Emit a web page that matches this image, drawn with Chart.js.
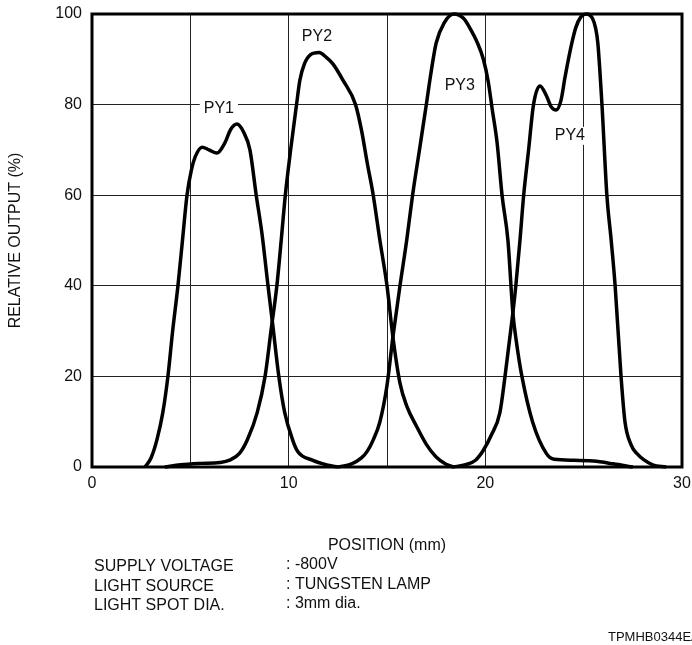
<!DOCTYPE html>
<html>
<head>
<meta charset="utf-8">
<script src="https://cdn.jsdelivr.net/npm/chart.js@4/dist/chart.umd.min.js"></script>
<style>
  html, body { margin: 0; padding: 0; background: #fff; }
  #wrap { width: 692px; height: 645px; }
</style>
</head>
<body>
<div id="wrap"><canvas id="myChart" width="692" height="645"></canvas></div>
<script>
// curve data: position (mm) / relative output (%)
var py1X = [2.7, 3.0, 3.3, 3.6, 3.86, 4.1, 4.37, 4.6, 4.83, 5.05, 5.25, 5.6, 5.95, 6.35, 6.75, 7.05, 7.37, 7.7, 8.03, 8.35, 8.64, 8.95, 9.2, 9.5, 9.8, 10.2, 10.45, 11.2, 12.0, 12.5];
var py1Y = [0, 2, 6, 12, 20, 30, 40, 50, 60, 65.5, 68.5, 70.6, 70, 69.3, 71.5, 74.5, 75.7, 74, 70, 60, 51.6, 40, 31, 20, 12, 6, 3.5, 1.5, 0.4, 0];

var py2X = [3.7, 4.5, 5.5, 6.5, 7.0, 7.5, 7.9, 8.4, 8.8, 9.1, 9.4, 9.62, 9.83, 10.1, 10.4, 10.57, 10.8, 11.1, 11.55, 11.9, 12.25, 12.76, 13.4, 13.7, 14.0, 14.3, 14.64, 15.0, 15.3, 15.66, 16.0, 16.5, 17.0, 17.5, 18.0, 18.4];
var py2Y = [0, 0.5, 0.8, 1, 1.5, 3, 6, 12, 20, 30, 40, 50, 60, 70, 80, 85.4, 89, 91, 91.5, 90.5, 89, 85.4, 80, 74.4, 67, 60, 50, 40, 28.7, 18.5, 13.5, 9, 5, 2.2, 0.6, 0];

var py3X = [12.5, 13.2, 13.7, 14.0, 14.3, 14.64, 15.0, 15.3, 15.66, 16.0, 16.3, 16.65, 17.0, 17.2, 17.5, 17.9, 18.4, 18.9, 19.2, 19.6, 19.9, 20.15, 20.35, 20.6, 20.85, 21.15, 21.4, 21.6, 21.86, 22.4, 23.1, 23.5, 24.5, 25.5, 26.5, 27.5];
var py3Y = [0, 0.7, 2, 3.5, 6, 10, 18, 28.7, 40, 50, 60, 70, 80, 86, 93.6, 98, 100, 99, 97, 93.6, 90, 85, 79, 71.5, 60, 50, 34, 27, 20, 10, 3, 1.7, 1.5, 1.3, 0.7, 0];

var py4X = [18.35, 19.0, 19.5, 19.9, 20.3, 20.74, 21.0, 21.4, 21.55, 21.76, 21.95, 22.2, 22.45, 22.78, 23.1, 23.35, 23.6, 23.85, 24.05, 24.4, 24.6, 24.85, 25.15, 25.45, 25.6, 25.72, 25.93, 26.18, 26.4, 26.6, 26.9, 27.1, 27.4, 27.7, 28.5, 29.2];
var py4Y = [0, 0.5, 1.5, 3.7, 7, 12, 20, 34, 40, 50, 60, 70, 80, 84.1, 82, 79.5, 78.8, 81, 86, 93.6, 97, 99.3, 100, 99, 97, 93.6, 80, 60, 50, 40, 20, 10, 5, 3, 0.5, 0];

var curveNames = ['PY1', 'PY2', 'PY3', 'PY4'];
// where each curve name sits, in data units
var nameX = [6.45, 11.44, 18.7, 24.3];
var nameY = [79.2, 95, 84.1, 73.1];

var xTicks = [0, 10, 20, 30];
var noteKeys = ['SUPPLY VOLTAGE', 'LIGHT SOURCE', 'LIGHT SPOT DIA.'];
var noteVals = [': -800V', ': TUNGSTEN LAMP', ': 3mm dia.'];
var figCode = 'TPMHB0344EA';

var FONT = '"Liberation Sans", Arial, sans-serif';

function pts(xs, ys) {
  return xs.map(function (x, i) { return { x: x, y: ys[i] }; });
}

var xsAll = [py1X, py2X, py3X, py4X];
var ysAll = [py1Y, py2Y, py3Y, py4Y];

var datasets = curveNames.map(function (name, i) {
  return {
    label: name,
    data: pts(xsAll[i], ysAll[i]),
    borderColor: '#000',
    borderWidth: 3.5,
    pointRadius: 0,
    fill: false,
    cubicInterpolationMode: 'monotone',
    clip: 6
  };
});

// frame round the plot + curve names
var framePlugin = {
  id: 'frame',
  beforeDatasetsDraw: function (chart) {
    var ctx = chart.ctx, a = chart.chartArea;
    var xs = chart.scales.x, ys = chart.scales.y;
    ctx.save();
    ctx.font = '16px ' + FONT;
    ctx.textAlign = 'center';
    ctx.textBaseline = 'middle';
    curveNames.forEach(function (n, i) {
      var px = xs.getPixelForValue(nameX[i]);
      var py = ys.getPixelForValue(nameY[i]);
      var w = ctx.measureText(n).width;
      ctx.fillStyle = '#fff';
      ctx.fillRect(px - w / 2 - 4, py - 9, w + 8, 18);
      ctx.fillStyle = '#111';
      ctx.fillText(n, px, py);
    });
    ctx.strokeStyle = '#000';
    ctx.lineWidth = 3;
    ctx.strokeRect(a.left, a.top, a.right - a.left, a.bottom - a.top);
    ctx.restore();
  },
  afterDraw: function (chart) {
    var ctx = chart.ctx;
    ctx.save();
    ctx.fillStyle = '#111';
    ctx.font = '16px ' + FONT;
    ctx.textBaseline = 'middle';
    ctx.textAlign = 'left';
    var rows = [567, 587, 606];
    noteKeys.forEach(function (k, i) {
      ctx.fillText(k, 94, rows[i]);
      ctx.fillText(noteVals[i], 286, rows[i] - 2);
    });
    ctx.font = '13px ' + FONT;
    ctx.fillText(figCode, 608, 637);
    ctx.restore();
  }
};

var ctx = document.getElementById('myChart').getContext('2d');
var myChart = new Chart(ctx, {
  type: 'line',
  data: { datasets: datasets },
  plugins: [framePlugin],
  options: {
    responsive: false,
    animation: false,
    layout: { padding: { left: 0, right: 10, top: 14, bottom: 88 } },
    plugins: {
      legend: { display: false },
      tooltip: { enabled: false }
    },
    scales: {
      x: {
        type: 'linear',
        min: 0,
        max: 30,
        afterFit: function (s) {
          s.height = 90;
          s.paddingLeft = 0;
          s.paddingRight = 0;
        },
        // vertical grid every 5 mm, labels only at 0/10/20/30
        afterBuildTicks: function (s) {
          s.ticks = [0, 5, 10, 15, 20, 25, 30].map(function (v) { return { value: v }; });
        },
        grid: { color: '#222', lineWidth: 1, drawTicks: false },
        border: { display: false },
        ticks: {
          padding: 7,
          color: '#111',
          font: { family: FONT, size: 16 },
          maxRotation: 0,
          callback: function (v) { return xTicks.indexOf(v) >= 0 ? String(v) : ''; }
        },
        title: {
          display: true,
          text: 'POSITION (mm)',
          color: '#111',
          font: { family: FONT, size: 16 },
          padding: { top: 0, bottom: 2 }
        }
      },
      y: {
        min: 0,
        max: 100,
        afterFit: function (s) {
          s.width = 92;
          s.paddingTop = 0;
          s.paddingBottom = 0;
        },
        grid: { color: '#222', lineWidth: 1, drawTicks: false },
        border: { display: false },
        ticks: {
          stepSize: 20,
          padding: 10,
          color: '#111',
          font: { family: FONT, size: 16 }
        },
        title: {
          display: true,
          text: 'RELATIVE OUTPUT (%)',
          color: '#111',
          font: { family: FONT, size: 16 },
          padding: { top: 6, bottom: 0 }
        }
      }
    }
  }
});
</script>
</body>
</html>
